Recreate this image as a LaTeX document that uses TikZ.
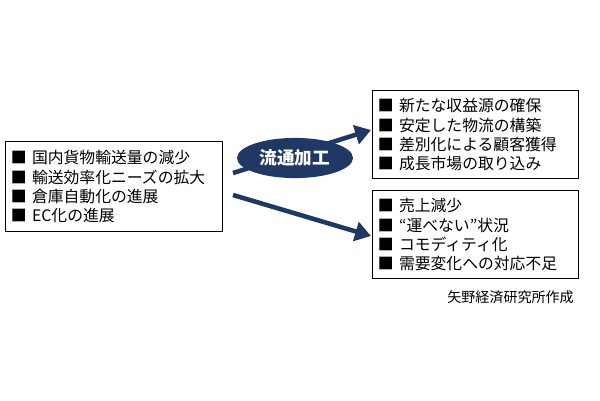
\documentclass[tikz,border=0pt]{standalone}
\usepackage{fontspec}
\setmainfont{Noto Sans CJK JP}
\usepackage{tikz}
\usetikzlibrary{calc, positioning, arrows.meta, shapes.geometric}
\definecolor{navy}{RGB}{31,56,100}
\tikzstyle{listbox}=[draw, thick, rectangle, align=left, anchor=north west, font=\fontsize{9}{11}\selectfont, inner sep=3pt, text width=5.6cm]
\tikzstyle{flow}=[navy, line width=2.6pt, -{Triangle[length=9pt, width=11pt]}]
\tikzset{>=stealth}
\begin{document}
\begin{tikzpicture}[x=0.02cm, y=-0.02cm]
\useasboundingbox (0,0) rectangle (600,400);
% the starting situation
\node[listbox, text width=4.12cm, minimum height=1.8cm] (L) at (5,141) {■ 国内貨物輸送量の減少\\■ 輸送効率化ニーズの拡大\\■ 倉庫自動化の進展\\■ EC化の進展};
% the two outcomes
\node[listbox, text width=3.9cm, minimum height=1.76cm] (U) at (372,90) {■ 新たな収益源の確保\\■ 安定した物流の構築\\■ 差別化による顧客獲得\\■ 成長市場の取り込み};
\node[listbox, text width=3.9cm, minimum height=1.76cm] (D) at (372,190) {■ 売上減少\\■ “運べない”状況\\■ コモディティ化\\■ 需要変化への対応不足};
% the arrows
\coordinate (S1) at (233,173);
\coordinate (S2) at (233,195);
\coordinate (E1) at (371,130);
\coordinate (E2) at (371,236);
\draw[flow] (S1) -- (E1);
\draw[flow] (S2) -- (E2);
\node[ellipse, fill=navy, text=white, minimum width=2.25cm, minimum height=0.8cm, font=\fontsize{10}{12}\selectfont\bfseries] (P) at (295,158) {流通加工};
% the source
\node[anchor=east, font=\fontsize{8}{10}\selectfont] (Src) at (580,297) {矢野経済研究所作成};
\end{tikzpicture}
\end{document}
